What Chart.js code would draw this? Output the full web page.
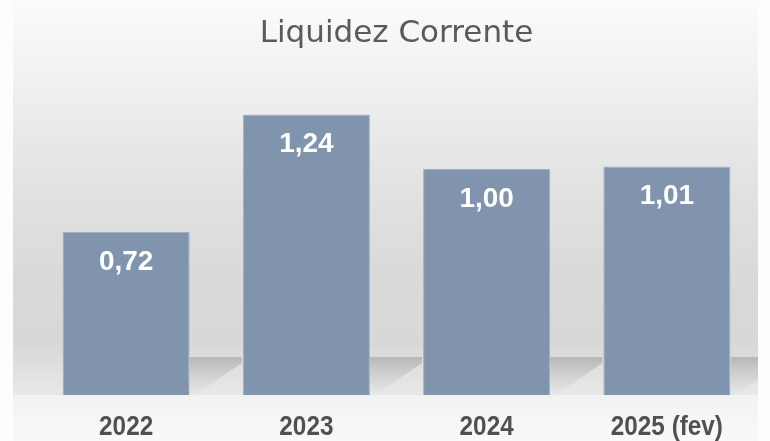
<!DOCTYPE html>
<html>
<head>
<meta charset="utf-8">
<script src="https://cdn.jsdelivr.net/npm/chart.js@4"></script>
<style>
    html, body { margin: 0; padding: 0; background: #fff; }
    #wrap { width: 770px; height: 441px; }
</style>
</head>
<body>
<div id="wrap"><canvas id="myChart"></canvas></div>
<script>
const years = ['2022', '2023', '2024', '2025 (fev)'];
const liquidez = [0.72, 1.24, 1.00, 1.01];
const yMax = 1.4;

// background panel: grey gradient + floor under the bars
const panelBg = {
    id: 'panelBg',
    beforeDraw(chart) {
        const ctx = chart.ctx;
        const area = chart.chartArea;
        ctx.save();
        ctx.fillStyle = '#fdfdfd';
        ctx.fillRect(0, 0, chart.width, chart.height);
        const g = ctx.createLinearGradient(0, 0, 0, area.bottom);
        g.addColorStop(0, '#fbfbfb');
        g.addColorStop(0.2, '#f1f1f1');
        g.addColorStop(0.45, '#e3e3e3');
        g.addColorStop(0.7, '#d9d9d9');
        g.addColorStop(0.87, '#d8d8d8');
        g.addColorStop(1, '#e8e8e8');
        ctx.fillStyle = g;
        ctx.fillRect(13, 0, 745, area.bottom);
        const f = ctx.createLinearGradient(0, area.bottom, 0, chart.height);
        f.addColorStop(0, '#f2f2f2');
        f.addColorStop(1, '#f9f9f9');
        ctx.fillStyle = f;
        ctx.fillRect(13, area.bottom, 745, chart.height - area.bottom);
        ctx.restore();
    },
    beforeDatasetsDraw(chart) {
        // soft shadow behind the foot of each bar
        const ctx = chart.ctx;
        const meta = chart.getDatasetMeta(0);
        ctx.save();
        ctx.beginPath();
        ctx.rect(13, 0, 745, chart.height);
        ctx.clip();
        meta.data.forEach(bar => {
            const right = bar.x + bar.width / 2;
            const b = bar.base;
            const g = ctx.createLinearGradient(0, b - 38, 0, b);
            g.addColorStop(0, 'rgba(0,0,0,0.17)');
            g.addColorStop(0.5, 'rgba(0,0,0,0.07)');
            g.addColorStop(1, 'rgba(0,0,0,0)');
            ctx.fillStyle = g;
            ctx.beginPath();
            ctx.moveTo(right, b - 38);
            ctx.lineTo(right + 52, b - 38);
            ctx.lineTo(right + 52, b - 32);
            ctx.lineTo(right + 6, b);
            ctx.lineTo(right, b);
            ctx.closePath();
            ctx.fill();
        });
        ctx.restore();
    }
};

// white value labels inside the bars, category names under them
const valueLabels = {
    id: 'valueLabels',
    afterDatasetsDraw(chart) {
        const ctx = chart.ctx;
        const meta = chart.getDatasetMeta(0);
        const xScale = chart.scales.x;
        ctx.save();
        ctx.textAlign = 'center';
        ctx.textBaseline = 'alphabetic';
        ctx.fillStyle = '#ffffff';
        ctx.font = 'bold 28px "Liberation Sans", Arial, sans-serif';
        meta.data.forEach((bar, i) => {
            const txt = liquidez[i].toFixed(2).replace('.', ',');
            ctx.fillText(txt, bar.x, bar.y + 38);
        });
        ctx.fillStyle = '#505050';
        ctx.font = 'bold 27px "Liberation Sans", Arial, sans-serif';
        years.forEach((yr, i) => {
            const x = xScale.getPixelForTick(i);
            ctx.save();
            ctx.translate(x, chart.chartArea.bottom + 40);
            ctx.scale(0.9, 1);
            ctx.fillText(yr, 0, 0);
            ctx.restore();
        });
        ctx.restore();
    }
};

var ctx = document.getElementById('myChart').getContext('2d');
var myChart = new Chart(ctx, { //eslint-disable-line
    type: 'bar',
    data: {
        labels: years,
        datasets: [{
            label: 'Liquidez Corrente',
            data: liquidez,
            backgroundColor: '#8094ae',
            borderColor: '#a2b0c3',
            borderWidth: 1,
            categoryPercentage: 1,
            barPercentage: 0.705
        }]
    },
    options: {
        responsive: true,
        maintainAspectRatio: false,
        animation: false,
        layout: {
            padding: { left: 36, right: 13, top: 0, bottom: 46 }
        },
        plugins: {
            legend: { display: false },
            tooltip: { enabled: false },
            title: {
                display: true,
                text: 'Liquidez Corrente',
                color: '#5a5a5a',
                font: { family: '"DejaVu Sans", sans-serif', size: 31, weight: 'normal' },
                padding: { top: 15, bottom: 26 }
            }
        },
        scales: {
            x: {
                grid: { display: false, drawTicks: false },
                border: { display: false },
                ticks: { display: false }
            },
            y: {
                display: false,
                beginAtZero: true,
                min: 0,
                max: yMax
            }
        }
    },
    plugins: [panelBg, valueLabels]
});
</script>
</body>
</html>
